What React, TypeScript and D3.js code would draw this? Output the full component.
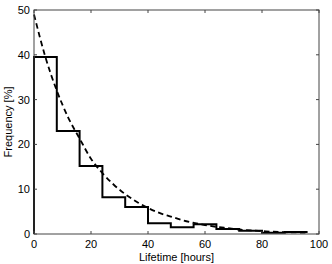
import * as d3 from 'd3';

// histogram bins (8 h wide) and their frequencies
const binEdges = [0, 8, 16, 24, 32, 40, 48, 56, 64, 72, 80, 88, 96];
const binFreq = [39.5, 23, 15.2, 8.2, 6, 2.4, 1.5, 2.2, 1.1, 0.7, 0.3, 0.45];

// dashed fitted curve
const fitX = [0, 4, 8, 12, 16, 20, 24, 28, 32, 36, 40, 44, 48, 52, 56, 60, 64, 68, 72, 76, 80, 84, 88, 92, 96];
const fitY = [49, 39.5, 32, 26, 21.3, 16.8, 13.6, 11, 8.9, 7.2, 5.8, 4.7, 3.9, 3.1, 2.5, 2.0, 1.6, 1.3, 1.0, 0.8, 0.65, 0.5, 0.4, 0.35, 0.3];

const xTicks = [0, 20, 40, 60, 80, 100];
const yTicks = [0, 10, 20, 30, 40, 50];

const width = 332;
const height = 264;
const margin = { top: 10, right: 13, bottom: 30, left: 34 };

export default function App() {
  const x = d3.scaleLinear().domain([0, 100]).range([margin.left, width - margin.right]);
  const y = d3.scaleLinear().domain([0, 50]).range([height - margin.bottom, margin.top]);

  // stairs: start on the baseline, step through every bin
  const stairPts: [number, number][] = [[binEdges[0], 0]];
  binFreq.forEach((f, i) => {
    stairPts.push([binEdges[i], f]);
    stairPts.push([binEdges[i + 1], f]);
  });
  const line = d3
    .line<[number, number]>()
    .x((d) => x(d[0]))
    .y((d) => y(d[1]));

  const fitPts = fitX.map((v, i) => [v, fitY[i]] as [number, number]);
  const curve = d3
    .line<[number, number]>()
    .x((d) => x(d[0]))
    .y((d) => y(d[1]))
    .curve(d3.curveMonotoneX);

  const font = 'Liberation Sans, Arial, Helvetica, sans-serif';
  const axisColor = '#444';
  const x0 = x(0);
  const x1 = x(100);
  const y0 = y(0);
  const y1 = y(50);

  return (
    <svg
      width={width}
      height={height}
      style={{ position: 'absolute', left: 0, top: 0, background: 'white' }}
      fontFamily={font}
    >
      <rect x={0} y={0} width={width} height={height} fill="white" />

      {/* data */}
      <path d={curve(fitPts) ?? ''} fill="none" stroke="#000" strokeWidth={1.8} strokeDasharray="5.5,3.5" />
      <path d={line(stairPts) ?? ''} fill="none" stroke="#000" strokeWidth={2} />

      {/* box */}
      <rect x={x0} y={y1} width={x1 - x0} height={y0 - y1} fill="none" stroke={axisColor} strokeWidth={1} />

      {/* x ticks */}
      {xTicks.map((t) => (
        <g key={'x' + t}>
          <line x1={x(t)} x2={x(t)} y1={y0} y2={y0 - 3} stroke={axisColor} />
          <line x1={x(t)} x2={x(t)} y1={y1} y2={y1 + 3} stroke={axisColor} />
          <text x={x(t)} y={y0 + 14} fontSize={11} textAnchor="middle" fill="#000">
            {t}
          </text>
        </g>
      ))}

      {/* y ticks */}
      {yTicks.map((t) => (
        <g key={'y' + t}>
          <line x1={x0} x2={x0 + 3} y1={y(t)} y2={y(t)} stroke={axisColor} />
          <line x1={x1} x2={x1 - 3} y1={y(t)} y2={y(t)} stroke={axisColor} />
          <text x={x0 - 4} y={y(t) + 4} fontSize={11} textAnchor="end" fill="#000">
            {t}
          </text>
        </g>
      ))}

      <text x={(x0 + x1) / 2} y={height - 3} fontSize={11} textAnchor="middle" fill="#000">
        Lifetime [hours]
      </text>
      <text
        transform={`translate(12,${(y0 + y1) / 2}) rotate(-90)`}
        fontSize={11}
        textAnchor="middle"
        fill="#000"
      >
        Frequency [%]
      </text>
    </svg>
  );
}
